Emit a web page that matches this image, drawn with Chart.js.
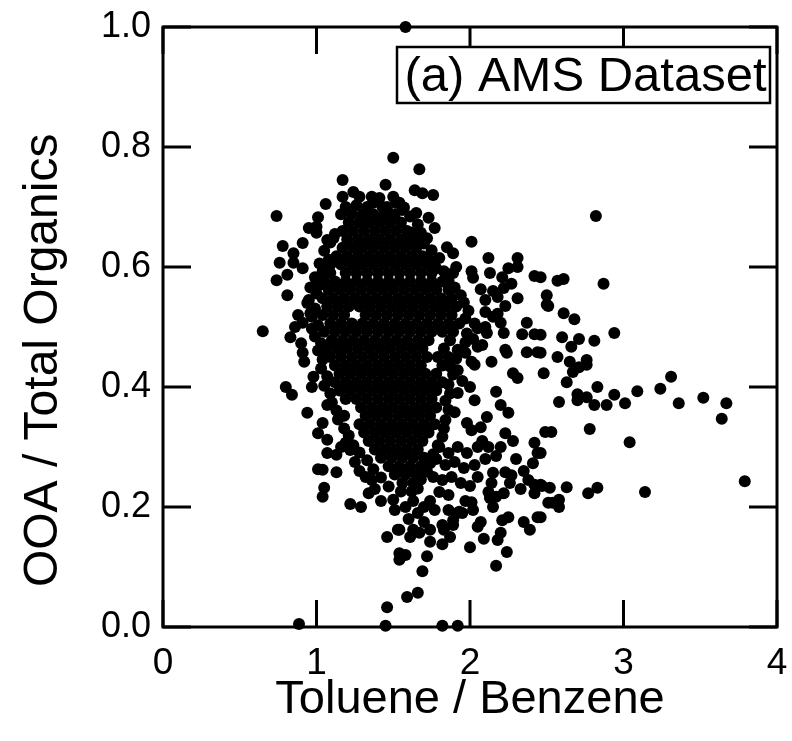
<!DOCTYPE html>
<html>
<head>
<meta charset="utf-8">
<script src="https://cdn.jsdelivr.net/npm/chart.js@4.4.1/dist/chart.umd.min.js"></script>
<style>
  html, body { margin: 0; padding: 0; background: #fff; }
  #wrap { width: 792px; height: 741px; }
</style>
</head>
<body>
<div id="wrap"><canvas id="c" width="792" height="741"></canvas></div>
<script>
// Axis setup
const xTickValues = [0, 1, 2, 3, 4];
const yTickValues = [0.0, 0.2, 0.4, 0.6, 0.8, 1.0];
const xTitle = 'Toluene / Benzene';
const yTitle = 'OOA / Total Organics     ';
const panelLabel = '(a) AMS Dataset';

// Points [toluene/benzene, OOA/total organics]
const topPoints = [[1.58,1.00],[1.50,.782],[1.67,.763],[1.17,.745],[1.45,.737],[1.64,.728],[1.69,.723],[1.76,.72],[1.24,.725],[1.17,.717],[1.28,.717],[1.36,.717],[1.41,.715],[1.50,.717],[1.52,.707],[1.26,.703],[1.37,.707],[1.43,.70],[1.06,.705],[1.54,.707],[1.56,.695],[1.65,.69],[1.73,.682],[1.77,.665],[1.01,.683],[1.00,.667],[0.95,.665],[1.00,.657],[1.62,.657],[1.72,.648],[1.66,.645],[1.85,.633],[2.01,.642],[0.78,.635],[0.91,.64],[0.74,.685],[1.11,.648],[1.07,.645],[2.82,.685]];

const upperFringe = [[0.85,.623],[0.76,.607],[0.85,.607],[0.91,.598],[0.81,.587],[0.74,.578],[0.98,.567],[0.81,.553],[1.89,.623],[1.80,.615],[1.91,.60],[1.89,.59],[2.01,.593],[2.02,.582],[2.12,.615],[2.13,.59],[2.31,.615],[2.31,.60],[2.25,.598],[2.21,.583],[2.42,.585],[2.46,.583],[2.57,.577],[2.61,.58],[2.87,.572],[2.50,.553],[2.31,.548],[2.07,.563],[2.15,.56],[2.22,.565],[2.27,.572],[2.10,.545],[2.18,.55]];

const leftFringe = [[0.94,.54],[0.96,.523],[0.91,.507],[0.65,.493],[0.83,.483],[0.90,.473],[0.91,.457],[0.92,.442],[0.98,.417],[0.97,.40],[0.80,.40],[0.84,.387],[0.94,.357],[1.07,.37],[1.01,.323],[1.04,.34],[0.88,.52],[0.86,.50]];

const rightFringe = [[2.23,.535],[2.18,.522],[2.15,.517],[2.10,.525],[2.37,.507],[2.20,.507],[2.22,.49],[2.05,.498],[2.11,.49],[2.10,.50],[2.34,.488],[2.42,.488],[2.50,.537],[2.51,.535],[2.61,.523],[2.68,.513],[2.46,.487],[2.60,.483],[2.71,.48],[2.81,.477],[2.94,.49],[2.23,.462],[2.24,.457],[2.37,.458],[2.44,.458],[2.05,.467],[1.97,.457],[2.66,.467],[2.46,.457],[2.57,.45],[2.14,.442],[2.01,.442],[2.03,.437],[1.92,.428],[2.28,.423],[2.31,.415],[2.48,.423],[2.65,.442],[2.76,.445],[2.76,.437],[2.71,.433],[2.67,.425],[2.63,.408],[3.31,.417],[3.24,.397],[3.09,.393],[2.94,.387],[2.83,.40],[2.70,.388],[2.76,.383],[2.58,.375],[2.70,.378],[2.81,.37],[2.89,.37],[3.01,.373],[3.36,.373],[3.52,.382],[3.67,.373],[2.17,.392],[2.20,.37],[2.25,.357],[2.03,.378],[1.90,.358],[2.11,.35],[2.23,.323],[2.49,.325],[1.98,.34],[2.01,.328],[2.07,.333],[3.64,.347],[2.53,.325],[2.78,.33],[3.04,.308],[2.46,.29],[2.42,.307],[2.44,.29],[2.41,.273],[2.02,.48],[2.08,.47],[1.95,.41],[1.92,.39],[2.0,.40]];

const lowerLeft = [[1.07,.312],[1.19,.307],[1.22,.295],[1.07,.29],[1.13,.287],[1.01,.263],[1.04,.262],[1.13,.258],[1.25,.275],[1.32,.25],[1.05,.232],[1.04,.217],[1.22,.205],[1.29,.20],[1.34,.223],[1.46,.15],[1.53,.162],[1.54,.112],[1.46,.033],[0.886,.005],[1.45,.002],[1.50,.212],[1.51,.195],[1.16,.30],[1.28,.26],[1.38,.23],[1.42,.21],[1.36,.245]];

const lowerRight = [[2.23,.258],[2.27,.253],[2.26,.24],[2.22,.223],[2.15,.257],[2.14,.24],[2.12,.225],[2.13,.215],[2.17,.217],[2.15,.20],[2.25,.183],[2.21,.178],[2.35,.175],[2.39,.162],[2.44,.183],[2.20,.157],[2.18,.145],[2.24,.125],[2.17,.102],[2.09,.147],[2.07,.175],[2.05,.167],[2.00,.133],[2.01,.208],[2.02,.195],[1.93,.192],[1.95,.19],[1.89,.17],[1.87,.15],[1.82,.17],[1.83,.162],[1.82,.138],[1.74,.142],[1.72,.118],[1.69,.093],[1.59,.05],[1.66,.057],[1.82,.002],[1.92,.002],[1.86,.195],[1.92,.19],[1.89,.178],[1.63,.162],[1.67,.157],[1.61,.15],[1.74,.162],[1.54,.123],[1.58,.12],[1.54,.162],[2.42,.237],[2.42,.223],[2.51,.207],[2.46,.237],[1.80,.30],[1.86,.29],[1.92,.30],[1.98,.29],[2.05,.30],[1.78,.28],[1.84,.27],[1.90,.275],[1.96,.265],[2.03,.27],[1.76,.25],[1.82,.245],[1.88,.25],[1.94,.24],[1.80,.225],[1.86,.22],[1.74,.21],[1.70,.20],[1.77,.195],[1.63,.21],[1.66,.19],[1.58,.20],[1.60,.18],[1.70,.175],[2.10,.28],[2.05,.25],[2.00,.235],[1.97,.21],[2.08,.31],[2.12,.30],[2.17,.285],[2.20,.30],[2.30,.28],[2.35,.26],[2.28,.31],[2.33,.23],[2.38,.245]];

const farRight = [[3.79,.243],[2.47,.235],[2.52,.232],[2.63,.233],[2.77,.223],[2.83,.232],[3.14,.225],[2.54,.207],[2.58,.212],[2.58,.20],[2.46,.183]];

// ragged edges of the dense core
const coreEdgeLeft = [[1.12,.655],[1.09,.641],[1.05,.627],[1.08,.612],[1.02,.606],[1.04,.593],[0.99,.583],[1.03,.571],[0.96,.566],[1.00,.556],[0.95,.545],[0.99,.531],[0.97,.517],[1.01,.503],[0.97,.497],[0.99,.484],[1.03,.473],[1.01,.461],[1.04,.446],[1.03,.431],[1.07,.418],[1.05,.402],[1.09,.389],[1.10,.374],[1.13,.361],[1.14,.346],[1.18,.331],[1.21,.319],[1.24,.303],[1.28,.291],[1.33,.278],[1.37,.263],[1.42,.249],[1.47,.234]];
const coreEdgeRight = [[1.57,.699],[1.61,.684],[1.66,.671],[1.68,.657],[1.70,.639],[1.75,.628],[1.74,.611],[1.78,.598],[1.83,.593],[1.86,.578],[1.90,.566],[1.94,.553],[1.96,.541],[1.99,.527],[1.97,.514],[2.03,.506],[1.98,.489],[1.97,.474],[1.92,.462],[1.91,.447],[1.87,.434],[1.89,.421],[1.86,.404],[1.87,.389],[1.84,.377],[1.86,.362],[1.84,.345],[1.83,.331],[1.82,.317],[1.79,.303],[1.76,.288],[1.74,.273],[1.72,.259],[1.68,.246],[1.66,.231]];

// dense core interior, listed row by row: [ooa fraction, toluene/benzene values...]
const coreRows = [
 [.700, 1.19,1.33,1.46],
 [.688, 1.16,1.23,1.30,1.37,1.44,1.51],
 [.674, 1.21,1.28,1.34,1.41,1.48,1.55],
 [.660, 1.17,1.24,1.31,1.38,1.45,1.52,1.59],
 [.646, 1.20,1.27,1.34,1.41,1.48,1.55,1.61],
 [.632, 1.17,1.24,1.30,1.37,1.44,1.51,1.58,1.65],
 [.618, 1.13,1.20,1.27,1.34,1.41,1.48,1.55,1.62,1.69],
 [.604, 1.09,1.16,1.23,1.30,1.37,1.44,1.51,1.58,1.65,1.72],
 [.590, 1.09,1.19,1.26,1.33,1.40,1.47,1.54,1.61,1.68,1.75],
 [.576, 1.05,1.12,1.19,1.26,1.33,1.40,1.47,1.54,1.61,1.68,1.75,1.82],
 [.562, 1.08,1.15,1.22,1.29,1.36,1.43,1.50,1.57,1.64,1.71,1.78,1.86],
 [.548, 1.04,1.11,1.18,1.25,1.32,1.39,1.46,1.53,1.60,1.67,1.74,1.81,1.88],
 [.534, 1.07,1.14,1.21,1.28,1.35,1.42,1.49,1.56,1.63,1.70,1.77,1.84,1.91],
 [.520, 1.04,1.11,1.18,1.32,1.39,1.46,1.53,1.60,1.67,1.74,1.81,1.88],
 [.506, 1.09,1.16,1.23,1.30,1.37,1.44,1.51,1.58,1.65,1.72,1.79,1.86,1.93],
 [.492, 1.05,1.12,1.19,1.26,1.33,1.40,1.47,1.54,1.61,1.68,1.75,1.82,1.89],
 [.478, 1.10,1.17,1.24,1.31,1.38,1.45,1.52,1.59,1.66,1.73,1.87],
 [.464, 1.06,1.13,1.20,1.27,1.34,1.41,1.48,1.55,1.62,1.69,1.83],
 [.450, 1.09,1.16,1.23,1.30,1.37,1.44,1.51,1.58,1.65,1.72,1.79,1.86],
 [.436, 1.12,1.19,1.26,1.33,1.40,1.47,1.54,1.61,1.68,1.82],
 [.422, 1.15,1.22,1.29,1.36,1.43,1.50,1.57,1.64,1.71,1.78],
 [.408, 1.12,1.19,1.26,1.33,1.40,1.47,1.54,1.61,1.68,1.75,1.82],
 [.394, 1.15,1.22,1.29,1.36,1.43,1.50,1.57,1.64,1.71,1.78],
 [.380, 1.19,1.26,1.33,1.40,1.47,1.54,1.61,1.68,1.75],
 [.366, 1.29,1.36,1.43,1.50,1.57,1.64,1.71,1.78],
 [.352, 1.18,1.32,1.39,1.46,1.53,1.60,1.67,1.74],
 [.338, 1.28,1.35,1.42,1.49,1.56,1.63,1.70,1.77],
 [.324, 1.31,1.38,1.45,1.52,1.59,1.66,1.73],
 [.310, 1.34,1.41,1.48,1.55,1.62,1.69],
 [.296, 1.38,1.45,1.52,1.59,1.66],
 [.282, 1.42,1.49,1.56,1.63,1.70],
 [.268, 1.47,1.54,1.61,1.68],
 [.254, 1.51,1.58,1.65],
 [.240, 1.56,1.63],
 [.226, 1.55,1.62]
];

const corePoints = [];
coreRows.forEach(r => { for (let i = 1; i < r.length; i++) corePoints.push([r[i], r[0]]); });

const allPoints = [].concat(topPoints, upperFringe, leftFringe, rightFringe, lowerLeft, lowerRight, farRight, coreEdgeLeft, coreEdgeRight, corePoints)
  .map(p => ({x: p[0], y: p[1]}));

const FONT = '"Liberation Sans", Arial, Helvetica, sans-serif';

const frameTicks = {
  id: 'frameTicks',
  beforeDatasetsDraw(chart) {
    const {ctx, chartArea: a, scales: {x, y}} = chart;
    ctx.save();
    ctx.strokeStyle = '#000';
    ctx.lineWidth = 3;
    ctx.lineCap = 'butt';
    ctx.strokeRect(a.left, a.top, a.right - a.left, a.bottom - a.top);
    ctx.beginPath();
    x.ticks.forEach(t => {
      const px = x.getPixelForValue(t.value);
      ctx.moveTo(px, a.bottom); ctx.lineTo(px, a.bottom - 27);
      ctx.moveTo(px, a.top); ctx.lineTo(px, a.top + 27);
    });
    y.ticks.forEach(t => {
      const py = y.getPixelForValue(t.value);
      ctx.moveTo(a.left, py); ctx.lineTo(a.left + 28, py);
      ctx.moveTo(a.right, py); ctx.lineTo(a.right - 28, py);
    });
    ctx.stroke();
    ctx.restore();
  }
};

const panelBox = {
  id: 'panelBox',
  afterDatasetsDraw(chart) {
    const {ctx} = chart;
    const left = 397, top = 47, w = 373, h = 56;
    ctx.save();
    ctx.fillStyle = '#fff';
    ctx.fillRect(left, top, w, h);
    ctx.strokeStyle = '#000';
    ctx.lineWidth = 2.5;
    ctx.strokeRect(left, top, w, h);
    ctx.fillStyle = '#000';
    ctx.font = '49px ' + FONT;
    ctx.textAlign = 'center';
    ctx.textBaseline = 'middle';
    ctx.fillText(panelLabel, left + w / 2 + 2, top + h / 2 + 2);
    ctx.restore();
  }
};

new Chart(document.getElementById('c'), {
  type: 'scatter',
  data: {
    datasets: [{
      data: allPoints,
      backgroundColor: '#000',
      borderColor: '#000',
      borderWidth: 0,
      pointRadius: 6,
      pointHoverRadius: 6,
      clip: false
    }]
  },
  options: {
    responsive: false,
    animation: false,
    events: [],
    layout: { padding: { left: 0, right: 15, top: 27, bottom: 0 } },
    plugins: { legend: { display: false }, tooltip: { enabled: false } },
    scales: {
      x: {
        type: 'linear', min: 0, max: 4,
        afterBuildTicks: s => { s.ticks = xTickValues.map(v => ({value: v})); },
        afterFit: s => { s.height = 114; s.paddingLeft = 0; s.paddingRight = 0; },
        grid: { display: false, drawTicks: false },
        border: { display: false },
        ticks: { color: '#000', padding: 15, font: { family: FONT, size: 37 }, callback: v => String(v) },
        title: { display: true, text: xTitle, color: '#000', font: { family: FONT, size: 47 }, padding: { top: 0, bottom: 13 } }
      },
      y: {
        type: 'linear', min: 0, max: 1,
        afterBuildTicks: s => { s.ticks = yTickValues.map(v => ({value: v})); },
        afterFit: s => { s.width = 163; s.paddingTop = 0; s.paddingBottom = 0; },
        grid: { display: false, drawTicks: false },
        border: { display: false },
        ticks: { color: '#000', padding: 12, font: { family: FONT, size: 36 }, callback: v => Number(v).toFixed(1) },
        title: { display: true, text: yTitle, color: '#000', font: { family: FONT, size: 48 }, padding: { top: 15, bottom: 0 } }
      }
    }
  },
  plugins: [frameTicks, panelBox]
});
</script>
</body>
</html>
